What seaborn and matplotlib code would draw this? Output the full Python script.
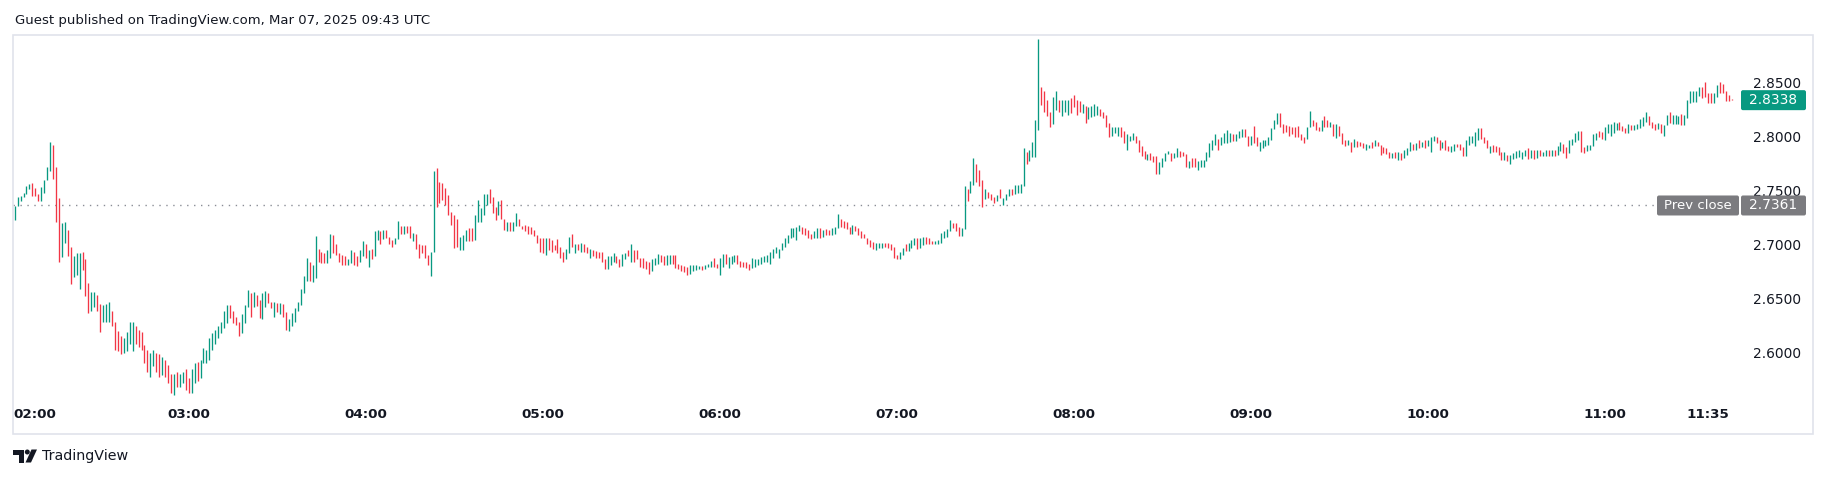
import matplotlib
matplotlib.use("Agg")
import matplotlib.pyplot as plt
import numpy as np
import pandas as pd
import seaborn as sns
from matplotlib.patches import Rectangle, FancyBboxPatch, Polygon, Circle

# ---------------- data (1-minute bars, first bar 02:01, last bar 11:43) ----------------
opens = [
    # 02:01 - 03:39
    2.723, 2.736, 2.740, 2.744, 2.747, 2.751, 2.757, 2.752, 2.747, 2.740,
    2.748, 2.760, 2.768, 2.792, 2.772, 2.743, 2.688, 2.701, 2.713, 2.698,
    2.670, 2.672, 2.659, 2.693, 2.686, 2.664, 2.638, 2.642, 2.653, 2.645,
    2.628, 2.628, 2.628, 2.638, 2.628, 2.620, 2.615, 2.599, 2.601, 2.608,
    2.601, 2.624, 2.621, 2.619, 2.607, 2.602, 2.577, 2.587, 2.599, 2.598,
    2.579, 2.593, 2.588, 2.580, 2.560, 2.582, 2.568, 2.571, 2.584, 2.576,
    2.562, 2.571, 2.591, 2.576, 2.590, 2.590, 2.593, 2.602, 2.608, 2.613,
    2.618, 2.622, 2.627, 2.644, 2.638, 2.633, 2.628, 2.618, 2.627, 2.642,
    2.655, 2.642, 2.653, 2.648, 2.631, 2.642, 2.655, 2.647, 2.633, 2.646,
    2.635, 2.645, 2.637, 2.620, 2.624, 2.628, 2.638, 2.644, 2.655,
    # 03:40 - 05:15
    2.666, 2.684, 2.665, 2.669, 2.696, 2.693, 2.692, 2.683, 2.687, 2.709,
    2.700, 2.692, 2.690, 2.689, 2.681, 2.683, 2.693, 2.689, 2.684, 2.689,
    2.700, 2.679, 2.696, 2.689, 2.704, 2.712, 2.705, 2.713, 2.707, 2.704,
    2.700, 2.705, 2.717, 2.710, 2.717, 2.717, 2.703, 2.710, 2.700, 2.699,
    2.699, 2.690, 2.671, 2.693, 2.771, 2.758, 2.757, 2.752, 2.746, 2.730,
    2.727, 2.724, 2.695, 2.695, 2.703, 2.715, 2.715, 2.704, 2.721, 2.721,
    2.727, 2.737, 2.751, 2.744, 2.735, 2.727, 2.741, 2.724, 2.712, 2.721,
    2.712, 2.717, 2.724, 2.717, 2.718, 2.717, 2.716, 2.713, 2.709, 2.706,
    2.706, 2.690, 2.706, 2.704, 2.699, 2.705, 2.698, 2.693, 2.686, 2.692,
    2.710, 2.692, 2.700, 2.693, 2.700, 2.698,
    # 05:16 - 06:54
    2.687, 2.695, 2.694, 2.693, 2.693, 2.686, 2.677, 2.681, 2.684, 2.689,
    2.686, 2.680, 2.686, 2.695, 2.684, 2.695, 2.695, 2.687, 2.687, 2.685,
    2.684, 2.675, 2.681, 2.682, 2.690, 2.689, 2.681, 2.682, 2.690, 2.690,
    2.682, 2.681, 2.680, 2.679, 2.673, 2.675, 2.676, 2.677, 2.680, 2.677,
    2.679, 2.679, 2.687, 2.682, 2.672, 2.679, 2.691, 2.678, 2.682, 2.684,
    2.690, 2.685, 2.684, 2.684, 2.682, 2.678, 2.679, 2.681, 2.682, 2.684,
    2.684, 2.682, 2.687, 2.692, 2.687, 2.695, 2.698, 2.701, 2.706, 2.707,
    2.704, 2.712, 2.716, 2.715, 2.713, 2.710, 2.706, 2.706, 2.715, 2.707,
    2.714, 2.713, 2.709, 2.710, 2.715, 2.724, 2.722, 2.721, 2.716, 2.710,
    2.717, 2.715, 2.712, 2.710, 2.706, 2.704, 2.702, 2.695, 2.697,
    # 06:55 - 08:31
    2.697, 2.701, 2.701, 2.700, 2.698, 2.690, 2.686, 2.690, 2.700, 2.694,
    2.697, 2.699, 2.706, 2.697, 2.699, 2.707, 2.706, 2.703, 2.700, 2.700,
    2.701, 2.706, 2.707, 2.712, 2.720, 2.720, 2.716, 2.708, 2.714, 2.751,
    2.748, 2.755, 2.775, 2.769, 2.760, 2.742, 2.749, 2.747, 2.744, 2.740,
    2.751, 2.737, 2.741, 2.745, 2.751, 2.747, 2.748, 2.748, 2.754, 2.786,
    2.777, 2.781, 2.781, 2.806, 2.846, 2.842, 2.834, 2.823, 2.812, 2.825,
    2.834, 2.819, 2.823, 2.820, 2.836, 2.839, 2.834, 2.833, 2.822, 2.828,
    2.816, 2.818, 2.819, 2.820, 2.826, 2.823, 2.820, 2.813, 2.801, 2.803,
    2.801, 2.809, 2.805, 2.788, 2.796, 2.797, 2.801, 2.797, 2.791, 2.787,
    2.778, 2.785, 2.782, 2.782, 2.765, 2.772, 2.777,
    # 08:32 - 10:10
    2.784,
    2.785, 2.780, 2.781, 2.787, 2.786, 2.784, 2.771, 2.780, 2.780, 2.769,
    2.772, 2.772, 2.777, 2.781, 2.788, 2.792, 2.798, 2.792, 2.794, 2.794,
    2.795, 2.802, 2.796, 2.799, 2.800, 2.807, 2.801, 2.792, 2.810, 2.800,
    2.787, 2.789, 2.791, 2.792, 2.797, 2.807, 2.812, 2.822, 2.812, 2.811,
    2.810, 2.809, 2.809, 2.810, 2.802, 2.800, 2.798, 2.809, 2.815, 2.814,
    2.809, 2.805, 2.819, 2.815, 2.809, 2.812, 2.799, 2.810, 2.803, 2.797,
    2.792, 2.795, 2.790, 2.796, 2.795, 2.794, 2.788, 2.789, 2.795, 2.791,
    2.795, 2.792, 2.790, 2.789, 2.786, 2.780, 2.786, 2.778, 2.785, 2.780,
    2.783, 2.787, 2.793, 2.788, 2.797, 2.790, 2.797, 2.791, 2.786, 2.796,
    2.800, 2.797, 2.789, 2.797, 2.791, 2.786, 2.787,
    2.793,
    # 10:11 - 11:43
    2.793, 2.790, 2.782, 2.792, 2.794, 2.791, 2.797, 2.808, 2.800, 2.797,
    2.785, 2.792, 2.791, 2.790, 2.786, 2.778, 2.783, 2.775, 2.779, 2.780,
    2.781, 2.779, 2.782, 2.789, 2.780, 2.788, 2.780, 2.788, 2.782, 2.782,
    2.788, 2.782, 2.788, 2.783, 2.787, 2.793, 2.790, 2.785, 2.792, 2.795,
    2.797, 2.805, 2.790, 2.787, 2.788, 2.791, 2.797, 2.805, 2.804, 2.797,
    2.803, 2.801, 2.803, 2.806, 2.814, 2.810, 2.808, 2.803, 2.811, 2.806,
    2.807, 2.808, 2.810, 2.814, 2.819, 2.814, 2.812, 2.807, 2.812, 2.801,
    2.811, 2.823, 2.812, 2.812, 2.812, 2.821, 2.811, 2.817, 2.831, 2.832,
    2.832, 2.838, 2.846, 2.851, 2.840, 2.840, 2.831, 2.837, 2.851, 2.849,
    2.842, 2.839, 2.835,
]

closes = [
    # 02:01 - 03:39
    2.736, 2.744, 2.745, 2.748, 2.754, 2.756, 2.745, 2.745, 2.740, 2.753,
    2.760, 2.772, 2.795, 2.761, 2.721, 2.684, 2.720, 2.721, 2.689, 2.663,
    2.689, 2.692, 2.692, 2.676, 2.652, 2.636, 2.656, 2.656, 2.638, 2.619,
    2.644, 2.645, 2.647, 2.624, 2.602, 2.601, 2.598, 2.613, 2.619, 2.628,
    2.628, 2.608, 2.605, 2.602, 2.590, 2.582, 2.599, 2.602, 2.582, 2.577,
    2.596, 2.577, 2.571, 2.562, 2.580, 2.568, 2.580, 2.582, 2.565, 2.562,
    2.584, 2.590, 2.573, 2.593, 2.604, 2.602, 2.613, 2.618, 2.621, 2.624,
    2.628, 2.638, 2.644, 2.632, 2.627, 2.625, 2.615, 2.635, 2.644, 2.658,
    2.633, 2.656, 2.643, 2.632, 2.655, 2.657, 2.646, 2.641, 2.647, 2.637,
    2.646, 2.633, 2.621, 2.631, 2.636, 2.641, 2.647, 2.659, 2.671,
    # 03:40 - 05:15
    2.687, 2.666, 2.681, 2.708, 2.684, 2.683, 2.683, 2.695, 2.710, 2.692,
    2.690, 2.684, 2.681, 2.681, 2.686, 2.695, 2.681, 2.680, 2.695, 2.703,
    2.687, 2.695, 2.686, 2.712, 2.713, 2.700, 2.713, 2.706, 2.700, 2.698,
    2.706, 2.722, 2.710, 2.717, 2.711, 2.706, 2.711, 2.696, 2.687, 2.692,
    2.687, 2.681, 2.693, 2.768, 2.735, 2.738, 2.741, 2.737, 2.727, 2.718,
    2.697, 2.698, 2.707, 2.709, 2.713, 2.703, 2.703, 2.727, 2.741, 2.734,
    2.747, 2.747, 2.738, 2.729, 2.723, 2.740, 2.724, 2.713, 2.721, 2.712,
    2.721, 2.729, 2.717, 2.714, 2.712, 2.710, 2.710, 2.708, 2.701, 2.693,
    2.692, 2.706, 2.695, 2.693, 2.695, 2.692, 2.687, 2.684, 2.696, 2.707,
    2.698, 2.700, 2.695, 2.701, 2.693, 2.692,
    # 05:16 - 06:54
    2.696, 2.689, 2.687, 2.687, 2.684, 2.677, 2.689, 2.689, 2.692, 2.683,
    2.679, 2.691, 2.692, 2.689, 2.700, 2.684, 2.686, 2.679, 2.678, 2.677,
    2.673, 2.686, 2.687, 2.691, 2.684, 2.681, 2.690, 2.690, 2.682, 2.678,
    2.677, 2.675, 2.674, 2.672, 2.681, 2.681, 2.681, 2.680, 2.676, 2.681,
    2.682, 2.685, 2.679, 2.678, 2.687, 2.691, 2.682, 2.688, 2.689, 2.690,
    2.682, 2.679, 2.679, 2.678, 2.676, 2.687, 2.686, 2.686, 2.688, 2.689,
    2.690, 2.693, 2.696, 2.698, 2.696, 2.701, 2.706, 2.709, 2.715, 2.715,
    2.716, 2.718, 2.710, 2.709, 2.706, 2.705, 2.712, 2.715, 2.706, 2.713,
    2.709, 2.709, 2.715, 2.716, 2.728, 2.716, 2.715, 2.714, 2.710, 2.718,
    2.712, 2.709, 2.706, 2.706, 2.700, 2.698, 2.696, 2.701, 2.701,
    # 06:55 - 08:31
    2.701, 2.698, 2.697, 2.695, 2.687, 2.686, 2.693, 2.697, 2.694, 2.701,
    2.704, 2.706, 2.696, 2.706, 2.707, 2.700, 2.700, 2.700, 2.703, 2.704,
    2.711, 2.712, 2.714, 2.723, 2.715, 2.712, 2.708, 2.715, 2.754, 2.740,
    2.759, 2.780, 2.758, 2.754, 2.735, 2.751, 2.743, 2.741, 2.738, 2.746,
    2.743, 2.743, 2.747, 2.751, 2.746, 2.755, 2.755, 2.756, 2.789, 2.775,
    2.788, 2.795, 2.815, 2.891, 2.829, 2.823, 2.819, 2.809, 2.837, 2.842,
    2.823, 2.834, 2.834, 2.834, 2.822, 2.827, 2.820, 2.823, 2.830, 2.813,
    2.827, 2.828, 2.830, 2.828, 2.819, 2.817, 2.809, 2.800, 2.809, 2.809,
    2.809, 2.800, 2.794, 2.802, 2.801, 2.803, 2.794, 2.786, 2.782, 2.779,
    2.784, 2.778, 2.776, 2.765, 2.776, 2.780, 2.785,
    # 08:32 - 10:10
    2.787,
    2.777, 2.785, 2.789, 2.781, 2.782, 2.772, 2.777, 2.772, 2.772, 2.777,
    2.778, 2.778, 2.786, 2.794, 2.797, 2.802, 2.788, 2.800, 2.803, 2.806,
    2.803, 2.796, 2.802, 2.805, 2.807, 2.800, 2.791, 2.801, 2.794, 2.791,
    2.795, 2.797, 2.797, 2.800, 2.808, 2.815, 2.822, 2.809, 2.803, 2.804,
    2.801, 2.802, 2.800, 2.800, 2.797, 2.794, 2.809, 2.824, 2.810, 2.806,
    2.805, 2.815, 2.809, 2.809, 2.814, 2.801, 2.812, 2.801, 2.793, 2.791,
    2.797, 2.786, 2.798, 2.790, 2.791, 2.789, 2.793, 2.792, 2.789, 2.797,
    2.791, 2.783, 2.785, 2.784, 2.780, 2.785, 2.780, 2.786, 2.778, 2.788,
    2.789, 2.795, 2.788, 2.794, 2.789, 2.795, 2.789, 2.797, 2.800, 2.801,
    2.794, 2.788, 2.795, 2.788, 2.787, 2.791, 2.793,
    2.790,
    # 10:11 - 11:43
    2.788, 2.782, 2.797, 2.801, 2.801, 2.804, 2.808, 2.798, 2.794, 2.789,
    2.791, 2.786, 2.786, 2.783, 2.778, 2.786, 2.777, 2.783, 2.785, 2.787,
    2.788, 2.786, 2.788, 2.779, 2.788, 2.779, 2.788, 2.782, 2.786, 2.788,
    2.782, 2.788, 2.782, 2.791, 2.795, 2.785, 2.780, 2.797, 2.798, 2.803,
    2.805, 2.786, 2.785, 2.792, 2.792, 2.802, 2.803, 2.800, 2.798, 2.809,
    2.812, 2.812, 2.814, 2.813, 2.806, 2.805, 2.803, 2.812, 2.806, 2.811,
    2.812, 2.816, 2.818, 2.823, 2.811, 2.808, 2.806, 2.813, 2.803, 2.811,
    2.820, 2.813, 2.820, 2.820, 2.819, 2.811, 2.820, 2.834, 2.842, 2.842,
    2.842, 2.846, 2.836, 2.837, 2.831, 2.831, 2.840, 2.848, 2.840, 2.840,
    2.833, 2.833, 2.8338,
]

first_minute = 1                     # first bar = 02:01
tick_minutes = [60, 120, 180, 240, 300, 360, 420, 480, 540, 575]
tick_labels = ["03:00", "04:00", "05:00", "06:00", "07:00", "08:00",
               "09:00", "10:00", "11:00", "11:35"]
start_label = "02:00"
price_ticks = [2.60, 2.65, 2.70, 2.75, 2.80, 2.85]
prev_close = 2.7361
last_price = 2.8338
header = "Guest published on TradingView.com, Mar 07, 2025 09:43 UTC"
brand = "TradingView"

assert len(opens) == len(closes)

# ---------------- style ----------------
UP, DOWN = "#089981", "#F23645"
TEXT = "#131722"
FRAME = "#e0e3eb"
GREY = "#7b7b7f"

sns.set_theme(style="white")
plt.rcParams["font.family"] = ["DejaVu Sans"]

W, H = 1827, 478
fig = plt.figure(figsize=(W / 100, H / 100), dpi=100)
fig.patch.set_facecolor("white")

# pane geometry (pixels) and scale calibration
pane_l, pane_r, pane_t, pane_b = 13, 1740, 35, 400
x0_px, px_per_min = 11.7, 2.95          # pixel of 02:00, pixels per minute
ref_price, ref_px, px_per_unit = 2.85, 82.7, 1078.0

ax = fig.add_axes([pane_l / W, 1 - pane_b / H, (pane_r - pane_l) / W, (pane_b - pane_t) / H])
ax.set_facecolor("none")
ax.set_xlim((pane_l - x0_px) / px_per_min, (pane_r - x0_px) / px_per_min)
ax.set_ylim(ref_price - (pane_b - ref_px) / px_per_unit, ref_price - (pane_t - ref_px) / px_per_unit)

df = pd.DataFrame({"minute": np.arange(first_minute, first_minute + len(opens)),
                   "open": opens, "close": closes})
df["low"] = df[["open", "close"]].min(axis=1)
df["high"] = df[["open", "close"]].max(axis=1)
df["dir"] = np.where(df["close"] >= df["open"], "up", "down")
palette = {"up": UP, "down": DOWN}
for d, sub in df.groupby("dir"):
    ax.vlines(sub["minute"], sub["low"], sub["high"], colors=palette[d], linewidth=0.95, zorder=3)

# previous close dotted line (ends where its label starts)
ax.plot([ax.get_xlim()[0], (1657 - x0_px) / px_per_min], [prev_close, prev_close],
        color="#8a8d96", lw=1.0, ls=(0, (1, 4)), zorder=2)

for s in ax.spines.values():
    s.set_visible(False)
ax.grid(False)
ax.yaxis.tick_right()
ax.set_yticks(price_ticks)
ax.set_yticklabels([f"{p:.4f}" for p in price_ticks])
ax.tick_params(axis="y", length=0, pad=9.4, labelsize=9.9, labelcolor=TEXT)
ax.set_xticks(tick_minutes)
ax.set_xticklabels(tick_labels, fontweight="bold")
ax.tick_params(axis="x", length=0, pad=5.5, labelsize=9.7, labelcolor=TEXT)

# ---------------- overlay in pixel coordinates ----------------
ov = fig.add_axes([0, 0, 1, 1], zorder=5)
ov.set_xlim(0, W)
ov.set_ylim(H, 0)
ov.axis("off")
ov.patch.set_visible(False)

ov.add_patch(Rectangle((13, 35), 1800, 398.5, fill=False, edgecolor=FRAME, lw=1.2))
ov.text(15, 20, header, fontsize=9.5, color=TEXT, ha="left", va="center")
ov.text(13.5, 415, start_label, fontsize=9.7, fontweight="bold", color=TEXT, ha="left", va="center")


def price_to_px(p):
    return H - ax.transData.transform((0, p))[1]


# last price label
yl = price_to_px(last_price)
ov.add_patch(FancyBboxPatch((1741, yl - 10), 65, 20, boxstyle="round,pad=0,rounding_size=2",
                            fc=UP, ec="none"))
ov.text(1773.5, yl, f"{last_price:.4f}", color="white", fontsize=9.9, ha="center", va="center")

# previous close label
yp = price_to_px(prev_close)
ov.add_patch(FancyBboxPatch((1657, yp - 10), 82, 20, boxstyle="round,pad=0,rounding_size=2",
                            fc=GREY, ec="none"))
ov.add_patch(FancyBboxPatch((1741, yp - 10), 65, 20, boxstyle="round,pad=0,rounding_size=2",
                            fc=GREY, ec="none"))
ov.text(1698, yp, "Prev close", color="white", fontsize=9.5, ha="center", va="center")
ov.text(1773.5, yp, f"{prev_close:.4f}", color="white", fontsize=9.9, ha="center", va="center")

# footer logo + brand
fy = 456
ov.add_patch(Polygon([(13, fy - 6.5), (24, fy - 6.5), (24, fy + 6.5), (19, fy + 6.5), (19, fy - 1.5), (13, fy - 1.5)],
                     closed=True, fc=TEXT, ec="none"))
ov.add_patch(Circle((27.3, fy - 4), 2.5, fc=TEXT, ec="none"))
ov.add_patch(Polygon([(25.5, fy + 6.5), (31, fy + 6.5), (37, fy - 6.5), (31.5, fy - 6.5)],
                     closed=True, fc=TEXT, ec="none"))
ov.text(42, fy, brand, fontsize=10.3, color=TEXT, ha="left", va="center")

fig.savefig("out.png", dpi=100, facecolor="white")
